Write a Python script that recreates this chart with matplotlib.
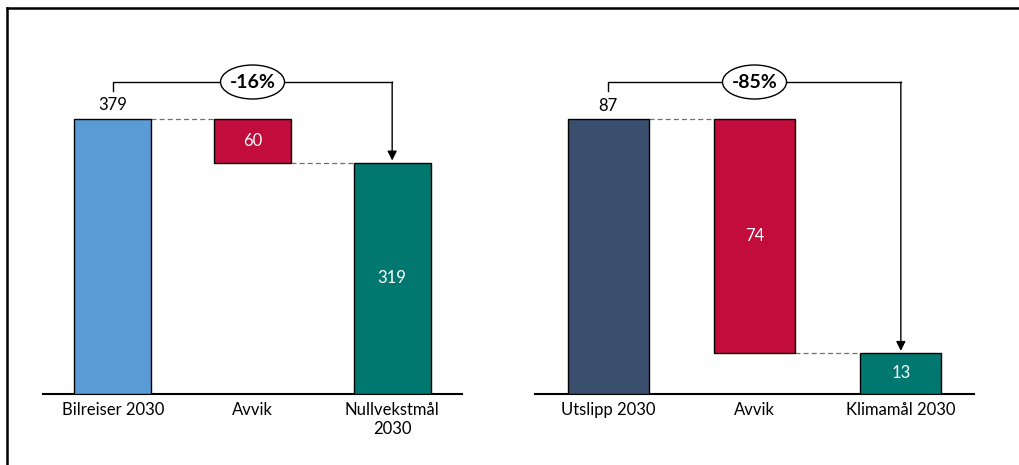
import numpy as np
import matplotlib
matplotlib.use("Agg")
import matplotlib.pyplot as plt
from matplotlib.lines import Line2D
from matplotlib.patches import Ellipse

plt.rcParams['font.family'] = ['Lato', 'DejaVu Sans']

# ---- data ----
left_cats = ['Bilreiser 2030', 'Avvik', 'Nullvekstmål\n2030']
left_start = 379
left_diff = 60
left_end = 319
left_pct = '-16%'
left_colors = ['#5B9BD5', '#C20D3C', '#00786F']

right_cats = ['Utslipp 2030', 'Avvik', 'Klimamål 2030']
right_start = 87
right_diff = 74
right_end = 13
right_pct = '-85%'
right_colors = ['#3A4E6E', '#C20D3C', '#00786F']

W, H = 1019, 465
fig = plt.figure(figsize=(W / 100, H / 100), dpi=100)

# frame lines (left + top only, like the source)
fig.add_artist(Line2D([7 / W, 7 / W], [0, 1 - 8 / H], color='black', lw=1.8))
fig.add_artist(Line2D([7 / W, 1], [1 - 8 / H, 1 - 8 / H], color='black', lw=1.8))


def waterfall(ax, cats, start, diff, end, pct, colors, width, ax_w):
    x = np.arange(3)
    bottoms = [0, start - diff, 0]
    heights = [start, diff, end]
    ax.bar(x, heights, bottom=bottoms, width=width, color=colors,
           edgecolor='black', linewidth=1.0, zorder=3)

    # scale: bar top at 275 px above baseline, axes is 334 px tall
    ppu = 275 / start
    ax.set_ylim(0, 334 / ppu)
    ax.set_xlim(-0.5, 2.5)
    ppx = ax_w / 3.0

    # dashed connectors
    hw = width / 2
    ax.plot([0 + hw, 1 - hw], [start, start], ls=(0, (4, 2.5)), color='#707070', lw=0.9)
    ax.plot([1 + hw, 2 - hw], [end, end], ls=(0, (4, 2.5)), color='#707070', lw=0.9)

    # value labels
    ax.text(0, start * 1.02, str(start), ha='center', va='bottom', fontsize=12)
    ax.text(1, start - diff / 2, str(diff), ha='center', va='center', fontsize=12, color='white')
    ax.text(2, end / 2, str(end), ha='center', va='center', fontsize=12, color='white')

    # bracket with arrow
    yb = 312 / ppu
    ax.plot([0, 0, 2], [303 / ppu, yb, yb], color='black', lw=1.0, clip_on=False)
    ax.annotate('', xy=(2, end + 2 / ppu), xytext=(2, yb),
                arrowprops=dict(arrowstyle='-|>', color='black', lw=1.0,
                                mutation_scale=14, shrinkA=0, shrinkB=0),
                annotation_clip=False)
    ax.add_patch(Ellipse((1, yb), 64 / ppx, 34 / ppu, fc='white', ec='black',
                         lw=1.0, zorder=5, clip_on=False))
    ax.text(1, yb, pct, ha='center', va='center', fontsize=14, fontweight='bold',
            zorder=6)

    ax.set_xticks(x)
    ax.set_xticklabels(cats, fontsize=12)
    ax.tick_params(axis='x', length=0, pad=6)
    ax.set_yticks([])
    for s in ['top', 'right', 'left']:
        ax.spines[s].set_visible(False)
    ax.spines['bottom'].set_linewidth(1.5)


base = (H - 394) / H
top = (H - 60) / H
ax1 = fig.add_axes([43 / W, base, 419 / W, top - base])
waterfall(ax1, left_cats, left_start, left_diff, left_end, left_pct, left_colors, 0.55, 419)

ax2 = fig.add_axes([535 / W, base, 439 / W, top - base])
waterfall(ax2, right_cats, right_start, right_diff, right_end, right_pct, right_colors, 0.555, 439)

fig.savefig('out.png', dpi=100)
